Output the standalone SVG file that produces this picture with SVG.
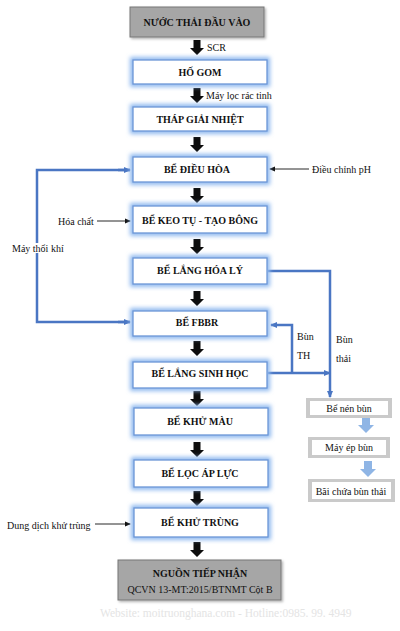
<svg xmlns="http://www.w3.org/2000/svg" width="400" height="631" viewBox="0 0 400 631">
<style>
.glow{fill:none;stroke:#8fb9ef;stroke-width:6;filter:url(#blur)}
.bx{fill:#fff;stroke:#6b96d6;stroke-width:1.3}
.gbx{fill:#a6a6a6;stroke:#767676;stroke-width:1}
.sbo{fill:#cacaca}
.sbi{fill:#fff}
.t{font-family:"Liberation Serif","Times New Roman",serif;font-size:10px;font-weight:bold;fill:#111;text-anchor:middle;dominant-baseline:central}
.l{font-family:"Liberation Serif","Times New Roman",serif;font-size:10px;fill:#111;dominant-baseline:central}
.lc{font-family:"Liberation Serif","Times New Roman",serif;font-size:10px;fill:#111;dominant-baseline:central;text-anchor:middle}
.ba{fill:#0d0d0d}
.la{fill:#8fb5e5}
.bl{fill:none;stroke:#4a76c3;stroke-width:2.5}
.tl{fill:none;stroke:#111;stroke-width:0.9}
</style>
<defs>
<filter id="blur" x="-20%" y="-60%" width="140%" height="220%"><feGaussianBlur stdDeviation="2"/></filter>
<filter id="sh" x="-10%" y="-20%" width="130%" height="150%"><feDropShadow dx="1.5" dy="1.5" stdDeviation="1" flood-color="#000" flood-opacity="0.3"/></filter>
<marker id="ah" markerWidth="6" markerHeight="6" refX="5" refY="3" orient="auto" markerUnits="userSpaceOnUse"><path d="M0,0.5 L6,3 L0,5.5 z" fill="#111"/></marker>
<marker id="bh" markerWidth="7" markerHeight="7" refX="6" refY="3.5" orient="auto" markerUnits="userSpaceOnUse"><path d="M0,0.5 L7,3.5 L0,6.5 z" fill="#4a76c3"/></marker>
<path id="barrow" d="M-3.5,0 H3.5 V8 H7 L0,15 L-7,8 H-3.5 Z"/>
<path id="larrow" d="M-4,0 H4 V8 H8 L0,16 L-8,8 H-4 Z"/>
</defs>

<g id="connectors">
<use href="#barrow" class="ba" x="197" y="40"/>
<use href="#barrow" class="ba" x="197" y="88"/>
<use href="#barrow" class="ba" x="197" y="137"/>
<use href="#barrow" class="ba" x="197" y="188"/>
<use href="#barrow" class="ba" x="197" y="239"/>
<use href="#barrow" class="ba" x="197" y="291"/>
<use href="#barrow" class="ba" x="197" y="341"/>
<use href="#barrow" class="ba" x="197" y="391"/>
<use href="#barrow" class="ba" x="197" y="442"/>
<use href="#barrow" class="ba" x="197" y="491"/>
<use href="#barrow" class="ba" x="197" y="542"/>
<use href="#larrow" class="la" x="366" y="417"/>
<use href="#larrow" class="la" x="368" y="461"/>
<path class="tl" d="M309,169 H270" marker-end="url(#ah)"/>
<path class="tl" d="M97,221 H130" marker-end="url(#ah)"/>
<path class="tl" d="M95,524 H130" marker-end="url(#ah)"/>
<path class="bl" d="M130,170 H37 V322 H130" />
<path class="bl" d="M118,170 H130" marker-end="url(#bh)"/>
<path class="bl" d="M118,322 H130" marker-end="url(#bh)"/>
<path class="bl" d="M268,271 H330 V397" marker-end="url(#bh)"/>
<path class="bl" d="M268,373 H330" marker-end="url(#bh)"/>
<path class="bl" d="M292,373 V325 H271" marker-end="url(#bh)"/>
</g>

<g id="n-nuocthai">
<rect class="gbx" x="130" y="7" width="134" height="30" filter="url(#sh)"/>
<text class="t" x="197" y="22">NƯỚC THẢI ĐẦU VÀO</text>
</g>
<g id="n-hogom">
<rect class="glow" x="133" y="60" width="134" height="24"/>
<rect class="bx" x="133" y="60" width="134" height="24"/>
<text class="t" x="200" y="72">HỐ GOM</text>
</g>
<g id="n-thap">
<rect class="glow" x="133" y="107" width="134" height="24"/>
<rect class="bx" x="133" y="107" width="134" height="24"/>
<text class="t" x="200" y="119">THÁP GIẢI NHIỆT</text>
</g>
<g id="n-dieuhoa">
<rect class="glow" x="133" y="157" width="134" height="25"/>
<rect class="bx" x="133" y="157" width="134" height="25"/>
<text class="t" x="197" y="169">BỂ ĐIỀU HÒA</text>
</g>
<g id="n-keotu">
<rect class="glow" x="133" y="206" width="134" height="27"/>
<rect class="bx" x="133" y="206" width="134" height="27"/>
<text class="t" x="200" y="220">BỂ KEO TỤ - TẠO BÔNG</text>
</g>
<g id="n-langhoaly">
<rect class="glow" x="133" y="258" width="134" height="26"/>
<rect class="bx" x="133" y="258" width="134" height="26"/>
<text class="t" x="200" y="270">BỂ LẮNG HÓA LÝ</text>
</g>
<g id="n-fbbr">
<rect class="glow" x="133" y="311" width="134" height="25"/>
<rect class="bx" x="133" y="311" width="134" height="25"/>
<text class="t" x="197" y="322">BỂ FBBR</text>
</g>
<g id="n-langsinhhoc">
<rect class="glow" x="133" y="362" width="134" height="26"/>
<rect class="bx" x="133" y="362" width="134" height="26"/>
<text class="t" x="200" y="373">BỂ LẮNG SINH HỌC</text>
</g>
<g id="n-khumau">
<rect class="glow" x="134" y="408" width="134" height="27"/>
<rect class="bx" x="134" y="408" width="134" height="27"/>
<text class="t" x="200" y="421">BỂ KHỬ MÀU</text>
</g>
<g id="n-locapluc">
<rect class="glow" x="134" y="460" width="134" height="27"/>
<rect class="bx" x="134" y="460" width="134" height="27"/>
<text class="t" x="200" y="473">BỂ LỌC ÁP LỰC</text>
</g>
<g id="n-khutrung">
<rect class="glow" x="134" y="508" width="134" height="29"/>
<rect class="bx" x="134" y="508" width="134" height="29"/>
<text class="t" x="200" y="522">BỂ KHỬ TRÙNG</text>
</g>
<g id="n-nguon">
<rect class="gbx" x="118" y="560" width="163" height="40" filter="url(#sh)"/>
<text class="t" x="200" y="573">NGUỒN TIẾP NHẬN</text>
<text class="lc" x="200" y="589">QCVN 13-MT:2015/BTNMT Cột B</text>
</g>
<g id="n-nenbun">
<rect class="sbo" x="306" y="398" width="86" height="20"/>
<rect class="sbi" x="310" y="401" width="78" height="14"/>
<text class="lc" x="349" y="408">Bể nén bùn</text>
</g>
<g id="n-epbun">
<rect class="sbo" x="308" y="437" width="82" height="21"/>
<rect class="sbi" x="312" y="440" width="74" height="15"/>
<text class="lc" x="349" y="447">Máy ép bùn</text>
</g>
<g id="n-baichua">
<rect class="sbo" x="308" y="479" width="87" height="23"/>
<rect class="sbi" x="312" y="482" width="79" height="17"/>
<text class="lc" x="351" y="491">Bãi chứa bùn thải</text>
</g>

<g id="labels">
<text class="l" x="207" y="47">SCR</text>
<text class="l" x="206" y="95">Máy lọc rác tinh</text>
<text class="l" x="312" y="169">Điều chỉnh pH</text>
<text class="l" x="58" y="221">Hóa chất</text>
<rect x="11" y="243" width="54" height="10" fill="#fff"/>
<text class="l" x="12" y="248">Máy thổi khí</text>
<text class="l" x="297" y="336">Bùn</text>
<text class="l" x="297" y="355">TH</text>
<text class="l" x="336" y="339">Bùn</text>
<text class="l" x="336" y="358">thải</text>
<text class="l" x="7" y="525">Dung dịch khử trùng</text>
<text class="l" x="100" y="613" style="font-size:11.5px;fill:#e4e4e4">Website: moitruonghana.com - Hotline:0985. 99. 4949</text>
</g>
</svg>
